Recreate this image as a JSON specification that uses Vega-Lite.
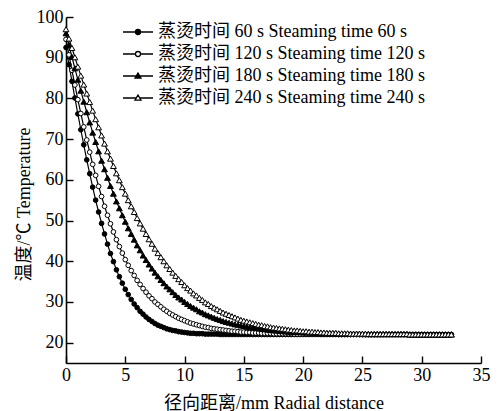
{
"$schema":"https://vega.github.io/schema/vega-lite/v6.json",
"width":415,"height":346,
"autosize":{"type":"none"},
"padding":{"left":66,"top":17,"right":16,"bottom":48},
"background":"white",
"config":{"view":{"stroke":null},"font":"Liberation Serif, Noto Sans CJK SC",
"axis":{"domainColor":"black","domainWidth":1.6,"tickColor":"black","tickWidth":1.4,"tickSize":-7,"labelColor":"black","labelFont":"Liberation Serif, Noto Sans CJK SC","labelFontSize":18,"titleColor":"black","titleFont":"Liberation Serif, Noto Sans CJK SC","titleFontSize":18,"titleFontWeight":"normal","grid":false}},
"data":{"values":[
{"t":60,"r":0,"T":92.5},{"t":60,"r":0.25,"T":88.3},{"t":60,"r":0.5,"T":84.2},{"t":60,"r":0.75,"T":80.1},{"t":60,"r":1,"T":76.2},{"t":60,"r":1.25,"T":72.3},{"t":60,"r":1.5,"T":68.6},{"t":60,"r":1.75,"T":64.9},{"t":60,"r":2,"T":61.5},{"t":60,"r":2.25,"T":58.2},{"t":60,"r":2.5,"T":55.0},{"t":60,"r":2.75,"T":52.1},{"t":60,"r":3,"T":49.3},{"t":60,"r":3.25,"T":46.7},{"t":60,"r":3.5,"T":44.2},{"t":60,"r":3.75,"T":41.9},{"t":60,"r":4,"T":39.9},{"t":60,"r":4.25,"T":37.9},{"t":60,"r":4.5,"T":36.2},{"t":60,"r":4.75,"T":34.6},{"t":60,"r":5,"T":33.1},{"t":60,"r":5.25,"T":31.8},{"t":60,"r":5.5,"T":30.6},{"t":60,"r":5.75,"T":29.5},{"t":60,"r":6,"T":28.6},{"t":60,"r":6.25,"T":27.7},{"t":60,"r":6.5,"T":27.0},{"t":60,"r":6.75,"T":26.3},{"t":60,"r":7,"T":25.7},{"t":60,"r":7.25,"T":25.2},{"t":60,"r":7.5,"T":24.7},{"t":60,"r":7.75,"T":24.3},{"t":60,"r":8,"T":24.0},{"t":60,"r":8.25,"T":23.7},{"t":60,"r":8.5,"T":23.4},{"t":60,"r":8.75,"T":23.2},{"t":60,"r":9,"T":23.0},{"t":60,"r":9.25,"T":22.9},{"t":60,"r":9.5,"T":22.7},{"t":60,"r":9.75,"T":22.6},{"t":60,"r":10,"T":22.5},{"t":60,"r":10.25,"T":22.4},{"t":60,"r":10.5,"T":22.3},{"t":60,"r":10.75,"T":22.3},{"t":60,"r":11,"T":22.2},{"t":60,"r":11.25,"T":22.2},{"t":60,"r":11.5,"T":22.2},{"t":60,"r":11.75,"T":22.1},{"t":60,"r":12,"T":22.1},{"t":60,"r":12.25,"T":22.1},{"t":60,"r":12.5,"T":22.1},{"t":60,"r":12.75,"T":22.1},{"t":60,"r":13,"T":22},{"t":60,"r":13.25,"T":22},{"t":60,"r":13.5,"T":22},{"t":60,"r":13.75,"T":22},{"t":60,"r":14,"T":22},{"t":60,"r":14.25,"T":22},{"t":60,"r":14.5,"T":22},{"t":60,"r":14.75,"T":22},{"t":60,"r":15,"T":22},{"t":60,"r":15.25,"T":22},{"t":60,"r":15.5,"T":22},{"t":60,"r":15.75,"T":22},{"t":60,"r":16,"T":22},{"t":60,"r":16.25,"T":22},{"t":60,"r":16.5,"T":22},{"t":60,"r":16.75,"T":22},{"t":60,"r":17,"T":22},{"t":60,"r":17.25,"T":22},{"t":60,"r":17.5,"T":22},{"t":60,"r":17.75,"T":22},{"t":60,"r":18,"T":22},{"t":60,"r":18.25,"T":22},{"t":60,"r":18.5,"T":22},{"t":60,"r":18.75,"T":22},{"t":60,"r":19,"T":22},{"t":60,"r":19.25,"T":22},{"t":60,"r":19.5,"T":22},{"t":60,"r":19.75,"T":22},{"t":60,"r":20,"T":22},{"t":60,"r":20.25,"T":22},{"t":60,"r":20.5,"T":22},{"t":60,"r":20.75,"T":22},{"t":60,"r":21,"T":22},{"t":60,"r":21.25,"T":22},{"t":60,"r":21.5,"T":22},{"t":60,"r":21.75,"T":22},{"t":60,"r":22,"T":22},{"t":60,"r":22.25,"T":22},{"t":60,"r":22.5,"T":22},{"t":60,"r":22.75,"T":22},{"t":60,"r":23,"T":22},{"t":60,"r":23.25,"T":22},{"t":60,"r":23.5,"T":22},{"t":60,"r":23.75,"T":22},{"t":60,"r":24,"T":22},{"t":60,"r":24.25,"T":22},{"t":60,"r":24.5,"T":22},{"t":60,"r":24.75,"T":22},{"t":60,"r":25,"T":22},{"t":60,"r":25.25,"T":22},{"t":60,"r":25.5,"T":22},{"t":60,"r":25.75,"T":22},{"t":60,"r":26,"T":22},{"t":60,"r":26.25,"T":22},{"t":60,"r":26.5,"T":22},{"t":60,"r":26.75,"T":22},{"t":60,"r":27,"T":22},{"t":60,"r":27.25,"T":22},{"t":60,"r":27.5,"T":22},{"t":60,"r":27.75,"T":22},{"t":60,"r":28,"T":22},{"t":60,"r":28.25,"T":22},{"t":60,"r":28.5,"T":22},{"t":60,"r":28.75,"T":22},{"t":60,"r":29,"T":22},{"t":60,"r":29.25,"T":22},{"t":60,"r":29.5,"T":22},{"t":60,"r":29.75,"T":22},{"t":60,"r":30,"T":22},{"t":60,"r":30.25,"T":22},{"t":60,"r":30.5,"T":22},{"t":60,"r":30.75,"T":22},{"t":60,"r":31,"T":22},{"t":60,"r":31.25,"T":22},{"t":60,"r":31.5,"T":22},{"t":60,"r":31.75,"T":22},{"t":60,"r":32,"T":22},{"t":60,"r":32.25,"T":22},{"t":60,"r":32.5,"T":22},
{"t":120,"r":0,"T":94.5},{"t":120,"r":0.25,"T":90.7},{"t":120,"r":0.5,"T":86.9},{"t":120,"r":0.75,"T":83.3},{"t":120,"r":1,"T":79.7},{"t":120,"r":1.25,"T":76.3},{"t":120,"r":1.5,"T":73.0},{"t":120,"r":1.75,"T":69.8},{"t":120,"r":2,"T":66.8},{"t":120,"r":2.25,"T":63.8},{"t":120,"r":2.5,"T":61.1},{"t":120,"r":2.75,"T":58.4},{"t":120,"r":3,"T":55.9},{"t":120,"r":3.25,"T":53.5},{"t":120,"r":3.5,"T":51.3},{"t":120,"r":3.75,"T":49.2},{"t":120,"r":4,"T":47.2},{"t":120,"r":4.25,"T":45.3},{"t":120,"r":4.5,"T":43.6},{"t":120,"r":4.75,"T":42.0},{"t":120,"r":5,"T":40.4},{"t":120,"r":5.25,"T":39.0},{"t":120,"r":5.5,"T":37.7},{"t":120,"r":5.75,"T":36.5},{"t":120,"r":6,"T":35.3},{"t":120,"r":6.25,"T":34.3},{"t":120,"r":6.5,"T":33.3},{"t":120,"r":6.75,"T":32.4},{"t":120,"r":7,"T":31.5},{"t":120,"r":7.25,"T":30.8},{"t":120,"r":7.5,"T":30.0},{"t":120,"r":7.75,"T":29.4},{"t":120,"r":8,"T":28.8},{"t":120,"r":8.25,"T":28.2},{"t":120,"r":8.5,"T":27.7},{"t":120,"r":8.75,"T":27.2},{"t":120,"r":9,"T":26.8},{"t":120,"r":9.25,"T":26.4},{"t":120,"r":9.5,"T":26.0},{"t":120,"r":9.75,"T":25.7},{"t":120,"r":10,"T":25.4},{"t":120,"r":10.25,"T":25.1},{"t":120,"r":10.5,"T":24.8},{"t":120,"r":10.75,"T":24.6},{"t":120,"r":11,"T":24.4},{"t":120,"r":11.25,"T":24.2},{"t":120,"r":11.5,"T":24.0},{"t":120,"r":11.75,"T":23.8},{"t":120,"r":12,"T":23.7},{"t":120,"r":12.25,"T":23.5},{"t":120,"r":12.5,"T":23.4},{"t":120,"r":12.75,"T":23.3},{"t":120,"r":13,"T":23.2},{"t":120,"r":13.25,"T":23.1},{"t":120,"r":13.5,"T":23.0},{"t":120,"r":13.75,"T":22.9},{"t":120,"r":14,"T":22.8},{"t":120,"r":14.25,"T":22.8},{"t":120,"r":14.5,"T":22.7},{"t":120,"r":14.75,"T":22.6},{"t":120,"r":15,"T":22.6},{"t":120,"r":15.25,"T":22.5},{"t":120,"r":15.5,"T":22.5},{"t":120,"r":15.75,"T":22.4},{"t":120,"r":16,"T":22.4},{"t":120,"r":16.25,"T":22.4},{"t":120,"r":16.5,"T":22.3},{"t":120,"r":16.75,"T":22.3},{"t":120,"r":17,"T":22.3},{"t":120,"r":17.25,"T":22.3},{"t":120,"r":17.5,"T":22.2},{"t":120,"r":17.75,"T":22.2},{"t":120,"r":18,"T":22.2},{"t":120,"r":18.25,"T":22.2},{"t":120,"r":18.5,"T":22.2},{"t":120,"r":18.75,"T":22.2},{"t":120,"r":19,"T":22.2},{"t":120,"r":19.25,"T":22.1},{"t":120,"r":19.5,"T":22.1},{"t":120,"r":19.75,"T":22.1},{"t":120,"r":20,"T":22.1},{"t":120,"r":20.25,"T":22.1},{"t":120,"r":20.5,"T":22.1},{"t":120,"r":20.75,"T":22.1},{"t":120,"r":21,"T":22.1},{"t":120,"r":21.25,"T":22.1},{"t":120,"r":21.5,"T":22.1},{"t":120,"r":21.75,"T":22.1},{"t":120,"r":22,"T":22.1},{"t":120,"r":22.25,"T":22.1},{"t":120,"r":22.5,"T":22.1},{"t":120,"r":22.75,"T":22.1},{"t":120,"r":23,"T":22},{"t":120,"r":23.25,"T":22},{"t":120,"r":23.5,"T":22},{"t":120,"r":23.75,"T":22},{"t":120,"r":24,"T":22},{"t":120,"r":24.25,"T":22},{"t":120,"r":24.5,"T":22},{"t":120,"r":24.75,"T":22},{"t":120,"r":25,"T":22},{"t":120,"r":25.25,"T":22},{"t":120,"r":25.5,"T":22},{"t":120,"r":25.75,"T":22},{"t":120,"r":26,"T":22},{"t":120,"r":26.25,"T":22},{"t":120,"r":26.5,"T":22},{"t":120,"r":26.75,"T":22},{"t":120,"r":27,"T":22},{"t":120,"r":27.25,"T":22},{"t":120,"r":27.5,"T":22},{"t":120,"r":27.75,"T":22},{"t":120,"r":28,"T":22},{"t":120,"r":28.25,"T":22},{"t":120,"r":28.5,"T":22},{"t":120,"r":28.75,"T":22},{"t":120,"r":29,"T":22},{"t":120,"r":29.25,"T":22},{"t":120,"r":29.5,"T":22},{"t":120,"r":29.75,"T":22},{"t":120,"r":30,"T":22},{"t":120,"r":30.25,"T":22},{"t":120,"r":30.5,"T":22},{"t":120,"r":30.75,"T":22},{"t":120,"r":31,"T":22},{"t":120,"r":31.25,"T":22},{"t":120,"r":31.5,"T":22},{"t":120,"r":31.75,"T":22},{"t":120,"r":32,"T":22},{"t":120,"r":32.25,"T":22},{"t":120,"r":32.5,"T":22},
{"t":180,"r":0,"T":96.0},{"t":180,"r":0.25,"T":93.1},{"t":180,"r":0.5,"T":90.2},{"t":180,"r":0.75,"T":87.4},{"t":180,"r":1,"T":84.6},{"t":180,"r":1.25,"T":81.9},{"t":180,"r":1.5,"T":79.2},{"t":180,"r":1.75,"T":76.6},{"t":180,"r":2,"T":74.1},{"t":180,"r":2.25,"T":71.6},{"t":180,"r":2.5,"T":69.3},{"t":180,"r":2.75,"T":67.0},{"t":180,"r":3,"T":64.7},{"t":180,"r":3.25,"T":62.6},{"t":180,"r":3.5,"T":60.5},{"t":180,"r":3.75,"T":58.5},{"t":180,"r":4,"T":56.6},{"t":180,"r":4.25,"T":54.7},{"t":180,"r":4.5,"T":53.0},{"t":180,"r":4.75,"T":51.3},{"t":180,"r":5,"T":49.7},{"t":180,"r":5.25,"T":48.1},{"t":180,"r":5.5,"T":46.7},{"t":180,"r":5.75,"T":45.3},{"t":180,"r":6,"T":43.9},{"t":180,"r":6.25,"T":42.7},{"t":180,"r":6.5,"T":41.4},{"t":180,"r":6.75,"T":40.3},{"t":180,"r":7,"T":39.2},{"t":180,"r":7.25,"T":38.2},{"t":180,"r":7.5,"T":37.2},{"t":180,"r":7.75,"T":36.3},{"t":180,"r":8,"T":35.4},{"t":180,"r":8.25,"T":34.6},{"t":180,"r":8.5,"T":33.8},{"t":180,"r":8.75,"T":33.1},{"t":180,"r":9,"T":32.4},{"t":180,"r":9.25,"T":31.7},{"t":180,"r":9.5,"T":31.1},{"t":180,"r":9.75,"T":30.6},{"t":180,"r":10,"T":30.0},{"t":180,"r":10.25,"T":29.5},{"t":180,"r":10.5,"T":29.0},{"t":180,"r":10.75,"T":28.6},{"t":180,"r":11,"T":28.2},{"t":180,"r":11.25,"T":27.7},{"t":180,"r":11.5,"T":27.4},{"t":180,"r":11.75,"T":27.0},{"t":180,"r":12,"T":26.7},{"t":180,"r":12.25,"T":26.4},{"t":180,"r":12.5,"T":26.1},{"t":180,"r":12.75,"T":25.8},{"t":180,"r":13,"T":25.6},{"t":180,"r":13.25,"T":25.3},{"t":180,"r":13.5,"T":25.1},{"t":180,"r":13.75,"T":24.9},{"t":180,"r":14,"T":24.7},{"t":180,"r":14.25,"T":24.5},{"t":180,"r":14.5,"T":24.4},{"t":180,"r":14.75,"T":24.2},{"t":180,"r":15,"T":24.1},{"t":180,"r":15.25,"T":23.9},{"t":180,"r":15.5,"T":23.8},{"t":180,"r":15.75,"T":23.7},{"t":180,"r":16,"T":23.6},{"t":180,"r":16.25,"T":23.5},{"t":180,"r":16.5,"T":23.4},{"t":180,"r":16.75,"T":23.3},{"t":180,"r":17,"T":23.2},{"t":180,"r":17.25,"T":23.1},{"t":180,"r":17.5,"T":23.0},{"t":180,"r":17.75,"T":23.0},{"t":180,"r":18,"T":22.9},{"t":180,"r":18.25,"T":22.8},{"t":180,"r":18.5,"T":22.8},{"t":180,"r":18.75,"T":22.7},{"t":180,"r":19,"T":22.7},{"t":180,"r":19.25,"T":22.6},{"t":180,"r":19.5,"T":22.6},{"t":180,"r":19.75,"T":22.6},{"t":180,"r":20,"T":22.5},{"t":180,"r":20.25,"T":22.5},{"t":180,"r":20.5,"T":22.5},{"t":180,"r":20.75,"T":22.4},{"t":180,"r":21,"T":22.4},{"t":180,"r":21.25,"T":22.4},{"t":180,"r":21.5,"T":22.3},{"t":180,"r":21.75,"T":22.3},{"t":180,"r":22,"T":22.3},{"t":180,"r":22.25,"T":22.3},{"t":180,"r":22.5,"T":22.3},{"t":180,"r":22.75,"T":22.3},{"t":180,"r":23,"T":22.2},{"t":180,"r":23.25,"T":22.2},{"t":180,"r":23.5,"T":22.2},{"t":180,"r":23.75,"T":22.2},{"t":180,"r":24,"T":22.2},{"t":180,"r":24.25,"T":22.2},{"t":180,"r":24.5,"T":22.2},{"t":180,"r":24.75,"T":22.2},{"t":180,"r":25,"T":22.1},{"t":180,"r":25.25,"T":22.1},{"t":180,"r":25.5,"T":22.1},{"t":180,"r":25.75,"T":22.1},{"t":180,"r":26,"T":22.1},{"t":180,"r":26.25,"T":22.1},{"t":180,"r":26.5,"T":22.1},{"t":180,"r":26.75,"T":22.1},{"t":180,"r":27,"T":22.1},{"t":180,"r":27.25,"T":22.1},{"t":180,"r":27.5,"T":22.1},{"t":180,"r":27.75,"T":22.1},{"t":180,"r":28,"T":22.1},{"t":180,"r":28.25,"T":22.1},{"t":180,"r":28.5,"T":22.1},{"t":180,"r":28.75,"T":22.1},{"t":180,"r":29,"T":22},{"t":180,"r":29.25,"T":22},{"t":180,"r":29.5,"T":22},{"t":180,"r":29.75,"T":22},{"t":180,"r":30,"T":22},{"t":180,"r":30.25,"T":22},{"t":180,"r":30.5,"T":22},{"t":180,"r":30.75,"T":22},{"t":180,"r":31,"T":22},{"t":180,"r":31.25,"T":22},{"t":180,"r":31.5,"T":22},{"t":180,"r":31.75,"T":22},{"t":180,"r":32,"T":22},{"t":180,"r":32.25,"T":22},{"t":180,"r":32.5,"T":22},
{"t":240,"r":0,"T":97.0},{"t":240,"r":0.25,"T":94.7},{"t":240,"r":0.5,"T":92.4},{"t":240,"r":0.75,"T":90.1},{"t":240,"r":1,"T":87.8},{"t":240,"r":1.25,"T":85.6},{"t":240,"r":1.5,"T":83.4},{"t":240,"r":1.75,"T":81.2},{"t":240,"r":2,"T":79.1},{"t":240,"r":2.25,"T":77.0},{"t":240,"r":2.5,"T":74.9},{"t":240,"r":2.75,"T":72.9},{"t":240,"r":3,"T":70.9},{"t":240,"r":3.25,"T":68.9},{"t":240,"r":3.5,"T":67.0},{"t":240,"r":3.75,"T":65.2},{"t":240,"r":4,"T":63.4},{"t":240,"r":4.25,"T":61.6},{"t":240,"r":4.5,"T":59.9},{"t":240,"r":4.75,"T":58.2},{"t":240,"r":5,"T":56.6},{"t":240,"r":5.25,"T":55.0},{"t":240,"r":5.5,"T":53.5},{"t":240,"r":5.75,"T":52.1},{"t":240,"r":6,"T":50.6},{"t":240,"r":6.25,"T":49.3},{"t":240,"r":6.5,"T":48.0},{"t":240,"r":6.75,"T":46.7},{"t":240,"r":7,"T":45.4},{"t":240,"r":7.25,"T":44.3},{"t":240,"r":7.5,"T":43.1},{"t":240,"r":7.75,"T":42.0},{"t":240,"r":8,"T":41.0},{"t":240,"r":8.25,"T":40.0},{"t":240,"r":8.5,"T":39.0},{"t":240,"r":8.75,"T":38.1},{"t":240,"r":9,"T":37.2},{"t":240,"r":9.25,"T":36.4},{"t":240,"r":9.5,"T":35.6},{"t":240,"r":9.75,"T":34.9},{"t":240,"r":10,"T":34.1},{"t":240,"r":10.25,"T":33.4},{"t":240,"r":10.5,"T":32.8},{"t":240,"r":10.75,"T":32.1},{"t":240,"r":11,"T":31.6},{"t":240,"r":11.25,"T":31.0},{"t":240,"r":11.5,"T":30.5},{"t":240,"r":11.75,"T":29.9},{"t":240,"r":12,"T":29.5},{"t":240,"r":12.25,"T":29.0},{"t":240,"r":12.5,"T":28.6},{"t":240,"r":12.75,"T":28.2},{"t":240,"r":13,"T":27.8},{"t":240,"r":13.25,"T":27.4},{"t":240,"r":13.5,"T":27.1},{"t":240,"r":13.75,"T":26.8},{"t":240,"r":14,"T":26.5},{"t":240,"r":14.25,"T":26.2},{"t":240,"r":14.5,"T":25.9},{"t":240,"r":14.75,"T":25.6},{"t":240,"r":15,"T":25.4},{"t":240,"r":15.25,"T":25.2},{"t":240,"r":15.5,"T":25.0},{"t":240,"r":15.75,"T":24.8},{"t":240,"r":16,"T":24.6},{"t":240,"r":16.25,"T":24.4},{"t":240,"r":16.5,"T":24.3},{"t":240,"r":16.75,"T":24.1},{"t":240,"r":17,"T":24.0},{"t":240,"r":17.25,"T":23.8},{"t":240,"r":17.5,"T":23.7},{"t":240,"r":17.75,"T":23.6},{"t":240,"r":18,"T":23.5},{"t":240,"r":18.25,"T":23.4},{"t":240,"r":18.5,"T":23.3},{"t":240,"r":18.75,"T":23.2},{"t":240,"r":19,"T":23.1},{"t":240,"r":19.25,"T":23.0},{"t":240,"r":19.5,"T":23.0},{"t":240,"r":19.75,"T":22.9},{"t":240,"r":20,"T":22.8},{"t":240,"r":20.25,"T":22.8},{"t":240,"r":20.5,"T":22.7},{"t":240,"r":20.75,"T":22.7},{"t":240,"r":21,"T":22.6},{"t":240,"r":21.25,"T":22.6},{"t":240,"r":21.5,"T":22.5},{"t":240,"r":21.75,"T":22.5},{"t":240,"r":22,"T":22.4},{"t":240,"r":22.25,"T":22.4},{"t":240,"r":22.5,"T":22.4},{"t":240,"r":22.75,"T":22.4},{"t":240,"r":23,"T":22.3},{"t":240,"r":23.25,"T":22.3},{"t":240,"r":23.5,"T":22.3},{"t":240,"r":23.75,"T":22.3},{"t":240,"r":24,"T":22.2},{"t":240,"r":24.25,"T":22.2},{"t":240,"r":24.5,"T":22.2},{"t":240,"r":24.75,"T":22.2},{"t":240,"r":25,"T":22.2},{"t":240,"r":25.25,"T":22.2},{"t":240,"r":25.5,"T":22.1},{"t":240,"r":25.75,"T":22.1},{"t":240,"r":26,"T":22.1},{"t":240,"r":26.25,"T":22.1},{"t":240,"r":26.5,"T":22.1},{"t":240,"r":26.75,"T":22.1},{"t":240,"r":27,"T":22.1},{"t":240,"r":27.25,"T":22.1},{"t":240,"r":27.5,"T":22.1},{"t":240,"r":27.75,"T":22.1},{"t":240,"r":28,"T":22.1},{"t":240,"r":28.25,"T":22.1},{"t":240,"r":28.5,"T":22.1},{"t":240,"r":28.75,"T":22.1},{"t":240,"r":29,"T":22},{"t":240,"r":29.25,"T":22},{"t":240,"r":29.5,"T":22},{"t":240,"r":29.75,"T":22},{"t":240,"r":30,"T":22},{"t":240,"r":30.25,"T":22},{"t":240,"r":30.5,"T":22},{"t":240,"r":30.75,"T":22},{"t":240,"r":31,"T":22},{"t":240,"r":31.25,"T":22},{"t":240,"r":31.5,"T":22},{"t":240,"r":31.75,"T":22},{"t":240,"r":32,"T":22},{"t":240,"r":32.25,"T":22},{"t":240,"r":32.5,"T":22}
]},
"encoding":{
"x":{"field":"r","type":"quantitative","scale":{"domain":[0,35],"nice":false,"zero":false},"axis":{"values":[0,5,10,15,20,25,30,35],"title":"径向距离/mm Radial distance","labelPadding":10,"labelFlush":false,"titleBaseline":"alphabetic","titleY":45}},
"y":{"field":"T","type":"quantitative","scale":{"domain":[15,100],"nice":false,"zero":false},"axis":{"values":[20,30,40,50,60,70,80,90,100],"title":"温度/℃ Temperature","labelPadding":10,"titleAngle":270,"titleBaseline":"middle","titleAlign":"center","titleX":-42,"titleY":187}}
},
"layer":[
{"mark":{"type":"line","color":"black","strokeWidth":1.2},"encoding":{"detail":{"field":"t","type":"nominal"}}},
{"mark":{"type":"point","filled":true,"stroke":"black","strokeWidth":1,"opacity":1},
 "encoding":{
  "shape":{"field":"t","type":"nominal","scale":{"domain":[60,120,180,240],"range":["circle","circle","triangle-up","triangle-up"]},"legend":null},
  "fill":{"field":"t","type":"nominal","scale":{"domain":[60,120,180,240],"range":["black","white","black","white"]},"legend":null},
  "size":{"condition":{"test":"datum.t >= 180","value":34},"value":22}}},
{"transform":[{"filter":"datum.T > 500"}],
 "mark":{"type":"point","filled":true,"strokeWidth":1.3,"opacity":1},
 "encoding":{
  "shape":{"field":"t","type":"nominal","scale":{"domain":[60,120,180,240],"range":["M-3,0L-0.5,0M0.5,0L3,0M0.5,0A0.5,0.5 0 1,1 -0.5,0A0.5,0.5 0 1,1 0.5,0Z","M-3,0L-0.5,0M0.5,0L3,0M0.5,0A0.5,0.5 0 1,1 -0.5,0A0.5,0.5 0 1,1 0.5,0Z","M-3,0L-0.35,0M0.35,0L3,0M0,-0.6L0.6,0.42L-0.6,0.42Z","M-3,0L-0.35,0M0.35,0L3,0M0,-0.6L0.6,0.42L-0.6,0.42Z"]},
   "legend":{"title":null,"orient":"none","legendX":63,"legendY":6,"symbolSize":100,"symbolStrokeWidth":1.3,"labelFontSize":18,"labelFont":"Liberation Serif, Noto Sans CJK SC","labelColor":"black","labelOffset":11,"labelLimit":600,"rowPadding":4,"padding":0,"labelExpr":"'蒸烫时间 ' + datum.label + ' s Steaming time ' + datum.label + ' s'"}},
  "fill":{"field":"t","type":"nominal","scale":{"domain":[60,120,180,240],"range":["black","white","black","white"]},
   "legend":{"title":null,"orient":"none","legendX":63,"legendY":6,"symbolSize":100,"symbolStrokeWidth":1.3,"labelFontSize":18,"labelFont":"Liberation Serif, Noto Sans CJK SC","labelColor":"black","labelOffset":11,"labelLimit":600,"rowPadding":4,"padding":0,"labelExpr":"'蒸烫时间 ' + datum.label + ' s Steaming time ' + datum.label + ' s'"}},
  "stroke":{"field":"t","type":"nominal","scale":{"domain":[60,120,180,240],"range":["black","black","black","black"]},
   "legend":{"title":null,"orient":"none","legendX":63,"legendY":6,"symbolSize":100,"symbolStrokeWidth":1.3,"labelFontSize":18,"labelFont":"Liberation Serif, Noto Sans CJK SC","labelColor":"black","labelOffset":11,"labelLimit":600,"rowPadding":4,"padding":0,"labelExpr":"'蒸烫时间 ' + datum.label + ' s Steaming time ' + datum.label + ' s'"}}}}
],
"resolve":{"scale":{"shape":"independent","fill":"independent","stroke":"independent"}}
}
